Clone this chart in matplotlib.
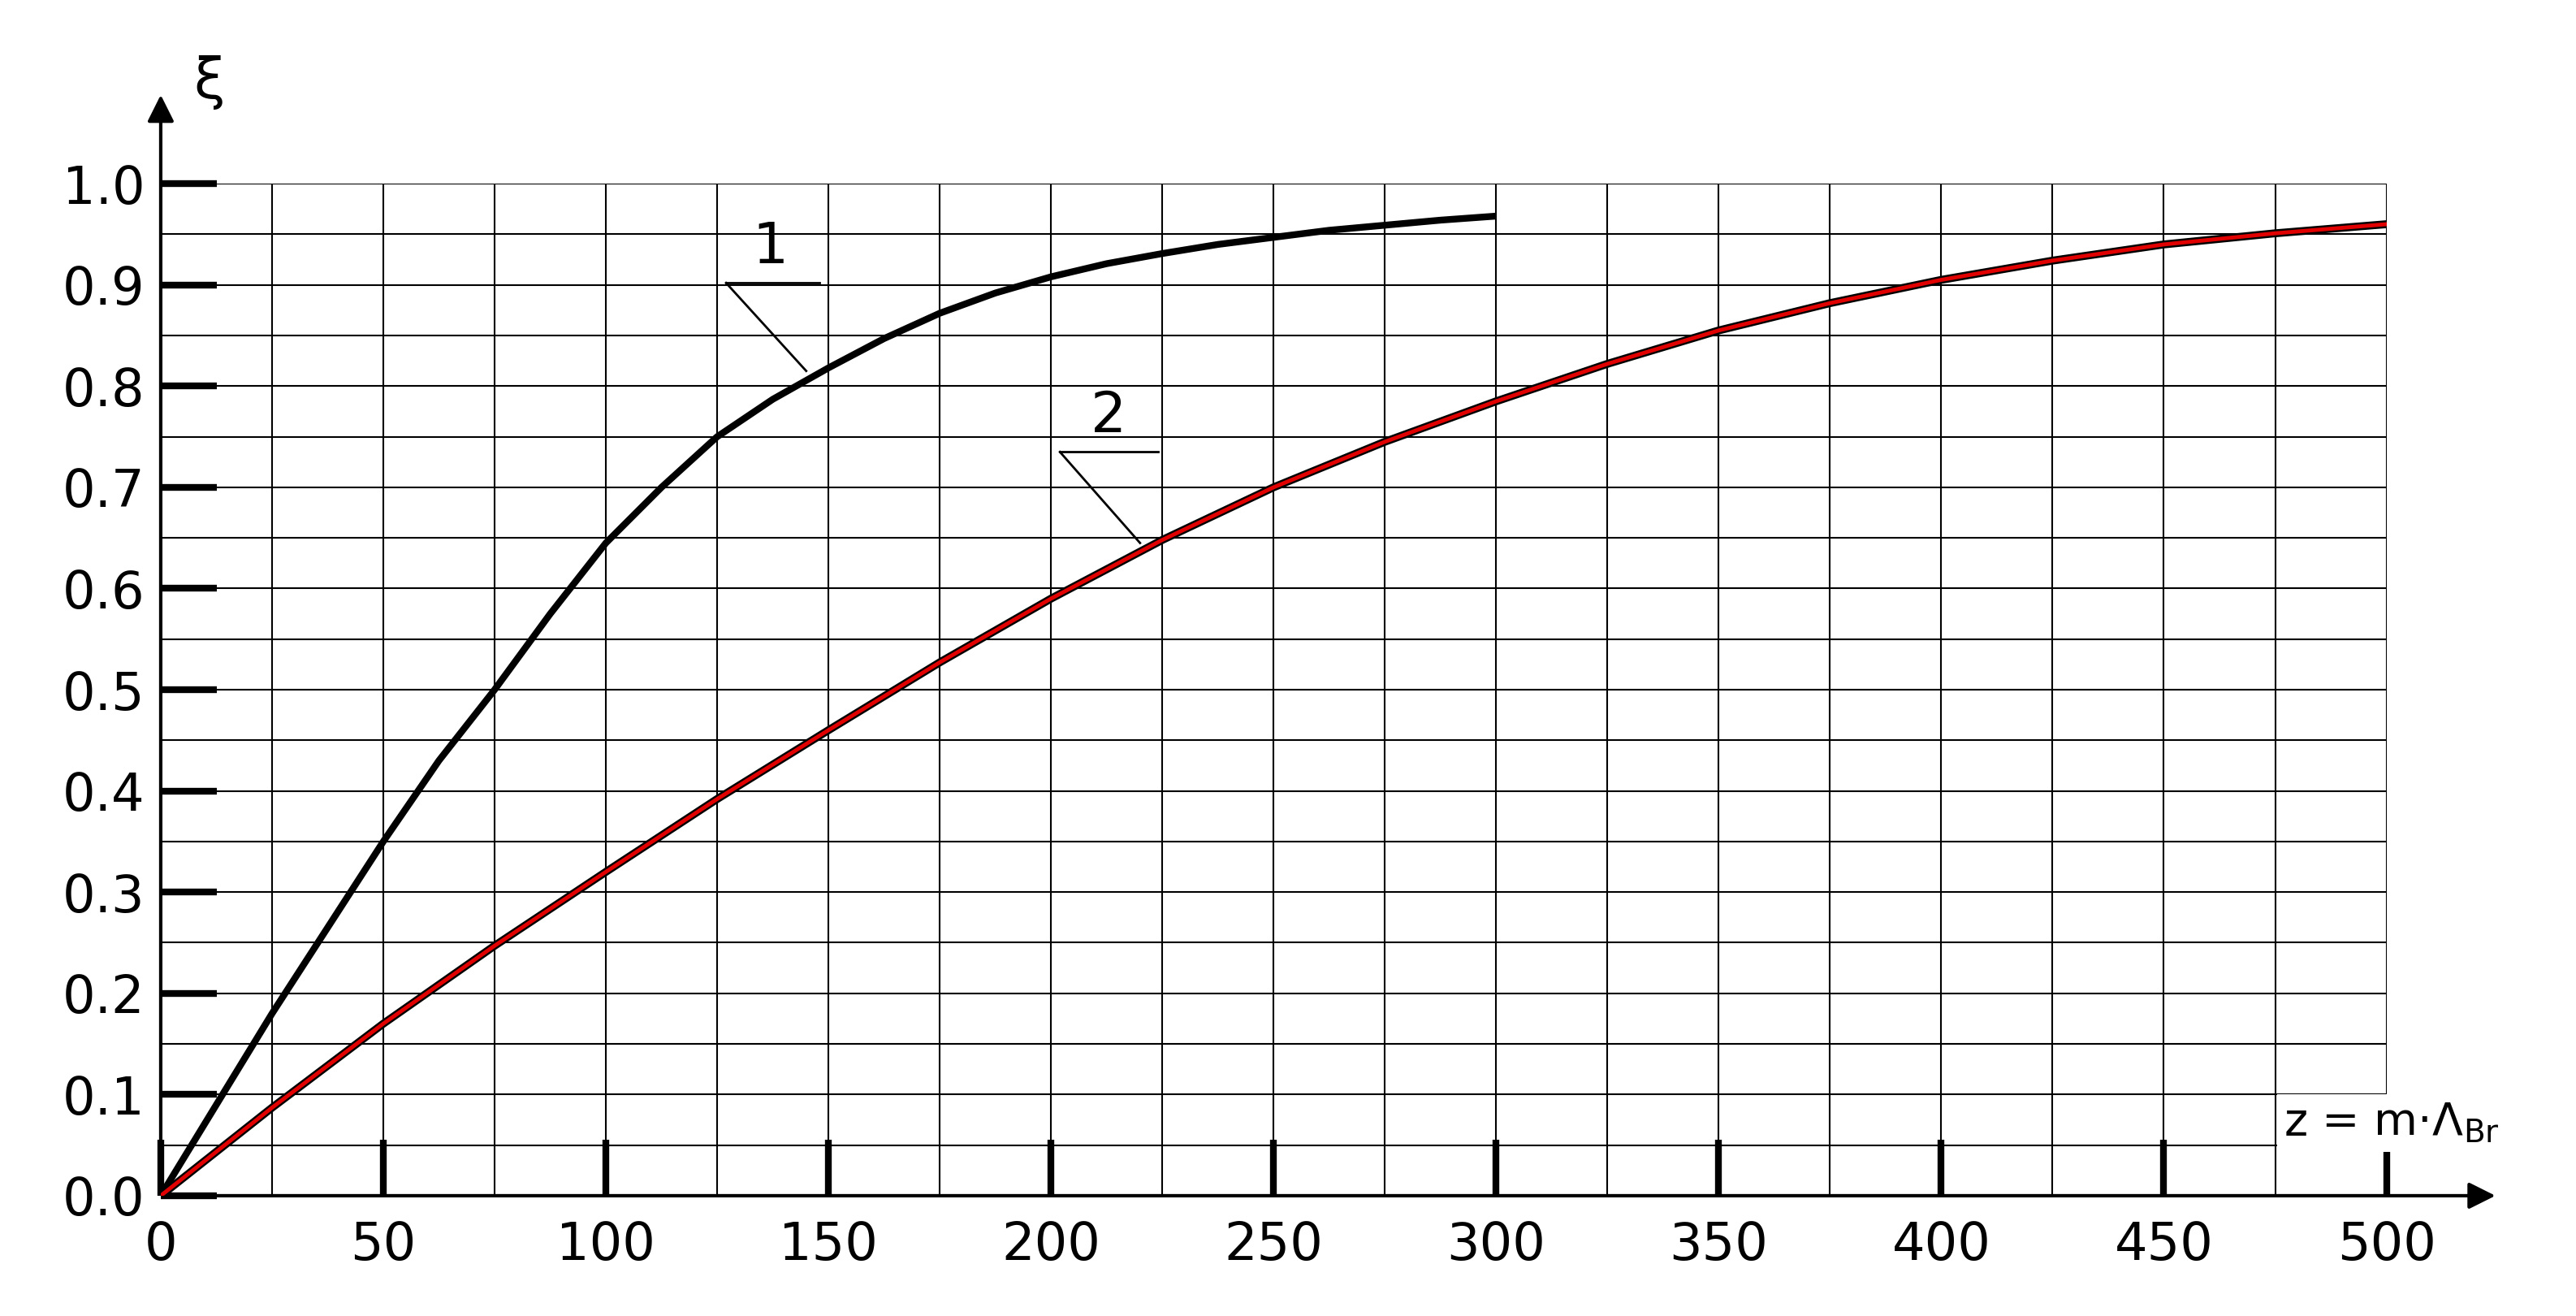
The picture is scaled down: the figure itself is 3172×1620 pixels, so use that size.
import matplotlib
matplotlib.use("Agg")
import matplotlib.pyplot as plt
import numpy as np

x1 = [0, 12.5, 25, 37.5, 50, 62.5, 75, 87.5, 100, 112.5, 125, 137.5, 150, 162.5, 175,
      187.5, 200, 212.5, 225, 237.5, 250, 262.5, 275, 287.5, 300]
y1 = [0, 0.09, 0.18, 0.265, 0.35, 0.43, 0.50, 0.575, 0.645, 0.70, 0.75, 0.787, 0.818, 0.847, 0.872,
      0.892, 0.908, 0.921, 0.931, 0.94, 0.947, 0.954, 0.959, 0.964, 0.968]
x2 = [0, 25, 50, 75, 100, 125, 150, 175, 200, 225, 250, 275, 300, 325, 350, 375, 400, 425, 450, 475, 500]
y2 = [0, 0.087, 0.17, 0.247, 0.32, 0.392, 0.46, 0.527, 0.59, 0.648, 0.70, 0.745, 0.785, 0.822, 0.855,
      0.882, 0.905, 0.924, 0.94, 0.951, 0.96]
xticks = [0, 50, 100, 150, 200, 250, 300, 350, 400, 450, 500]
yticks = [0.0, 0.1, 0.2, 0.3, 0.4, 0.5, 0.6, 0.7, 0.8, 0.9, 1.0]

fig = plt.figure(figsize=(31.72, 16.2), dpi=100)
ax = fig.add_axes([0.0624, 0.0914, 0.864, 0.769])
ax.set_xlim(0, 500); ax.set_ylim(0, 1.0)
for v in np.arange(25, 501, 25):
    ax.axvline(v, color='black', lw=1.5, zorder=1)
for v in np.arange(0.05, 1.001, 0.05):
    ax.axhline(v, color='black', lw=1.5, zorder=1)
for s in ax.spines.values():
    s.set_visible(False)
ax.set_xticks(xticks); ax.set_yticks(yticks)
ax.set_xticklabels([str(v) for v in xticks], fontsize=46)
ax.set_yticklabels([f"{v:.1f}" for v in yticks], fontsize=46)
ax.tick_params(axis='both', direction='in', length=50, width=6, pad=14)
ax.tick_params(axis='x', pad=22)

ax.plot(x1, y1, color='black', lw=6, zorder=3, solid_capstyle='butt')
ax.plot(x2, y2, color='black', lw=7, zorder=3)
ax.plot(x2, y2, color='#e00000', lw=3.5, zorder=4)

ax.annotate('', xy=(525, 0), xytext=(0, 0), annotation_clip=False,
            arrowprops=dict(arrowstyle='-|>', lw=3, color='black', mutation_scale=50))
ax.annotate('', xy=(0, 1.09), xytext=(0, 0), annotation_clip=False,
            arrowprops=dict(arrowstyle='-|>', lw=3, color='black', mutation_scale=50))
ax.text(11, 1.10, 'ξ', fontsize=50, ha='center', va='center')
ax.text(477, 0.072, r'z = m$\cdot\Lambda_{\mathrm{Br}}$', fontsize=40, ha='left', va='center',
        bbox=dict(facecolor='white', edgecolor='none', pad=6), zorder=5)

ax.plot([127, 148], [0.902, 0.902], color='black', lw=2, zorder=5)
ax.plot([127, 145], [0.902, 0.815], color='black', lw=2, zorder=5)
ax.text(137, 0.91, '1', fontsize=50, ha='center', va='bottom', zorder=5)
ax.plot([202, 224], [0.735, 0.735], color='black', lw=2, zorder=5)
ax.plot([202, 220], [0.735, 0.645], color='black', lw=2, zorder=5)
ax.text(213, 0.743, '2', fontsize=50, ha='center', va='bottom', zorder=5)

fig.savefig('out.png', dpi=100, facecolor='white')
